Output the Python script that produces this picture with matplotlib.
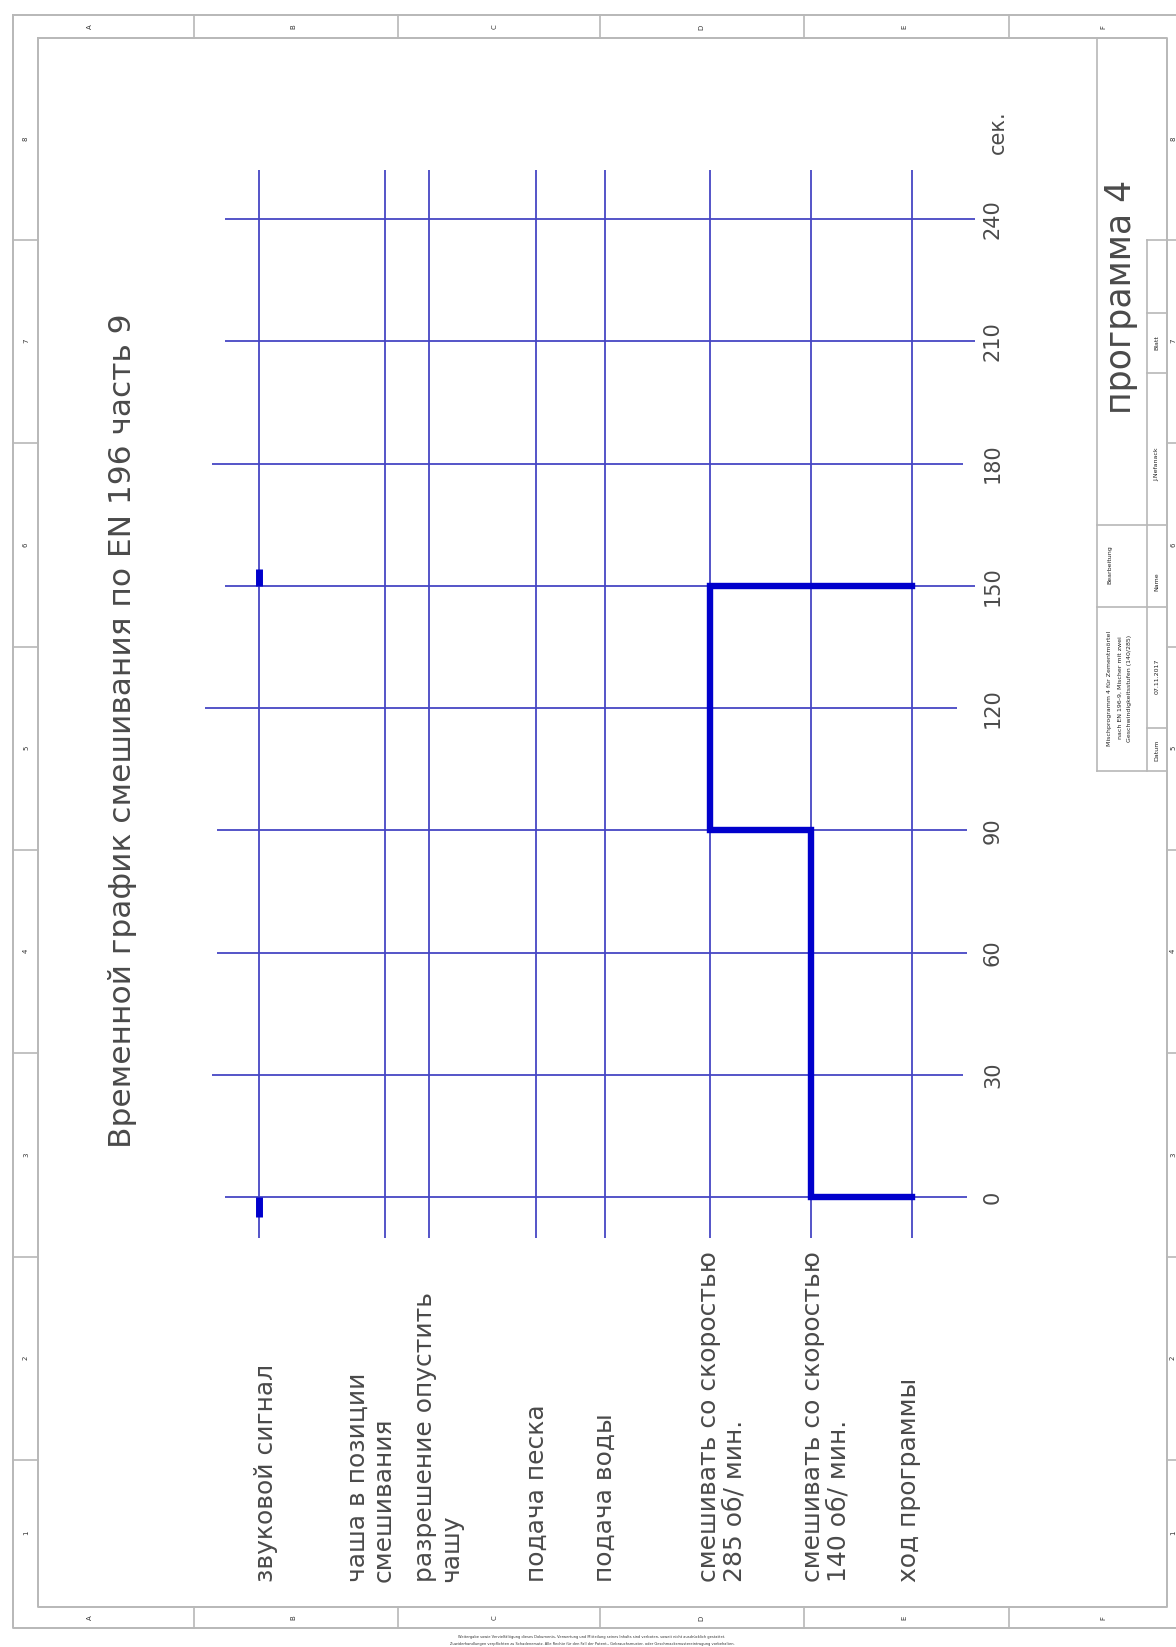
import matplotlib
matplotlib.use('Agg')
import matplotlib.pyplot as plt

plt.rcParams['font.family'] = ['DejaVu Sans']

# ---- data ----
title = 'Временной график смешивания по EN 196 часть 9'
program_name = 'программа 4'
time_unit = 'сек.'
row_labels = [
  'звуковой сигнал',
  'чаша в позиции\nсмешивания',
  'разрешение опустить\nчашу',
  'подача песка',
  'подача воды',
  'смешивать со скоростью\n285 об/ мин.',
  'смешивать со скоростью\n140 об/ мин.',
  'ход программы',
]
time_ticks = [0, 30, 60, 90, 120, 150, 180, 210, 240]
beep_start = [-5, 150]
beep_end = [0, 154]
# program flow: (row index, time) corner points
flow_rows = [7, 6, 6, 5, 5, 7]
flow_times = [0, 0, 90, 90, 150, 150]
zone_letters = ['A', 'B', 'C', 'D', 'E', 'F']
zone_numbers = ['8', '7', '6', '5', '4', '3', '2', '1']

# ---- layout (pixels) ----
W, H = 1176, 1647
row_x = [259, 385, 429, 536, 605, 710, 811, 912]
label_x = [266, 371, 438, 537, 605, 722, 826, 909]
label_bottom = 1582
line_start = [225, 212, 217, 217, 205, 225, 212, 225, 225]
line_end = [967, 963, 967, 967, 957, 975, 963, 975, 975]
y0_px, y240_px = 1197, 219
t_min, t_max = -10, 252

BLUE_THIN = '#4646c4'
BLUE_THICK = '#0000cc'
GREY = '#b8b8b8'
TEXT = '#4a4a4a'

fig = plt.figure(figsize=(W / 100, H / 100), dpi=100)

# frame axes in pixel units
fax = fig.add_axes([0, 0, 1, 1])
fax.set_xlim(0, W)
fax.set_ylim(H, 0)
fax.axis('off')

# drawing frame
fax.plot([13, 1180, 1180, 13, 13], [15, 15, 1628, 1628, 15], color=GREY, lw=1.4)
fax.plot([38, 1167, 1167, 38, 38], [38, 38, 1607, 1607, 38], color=GREY, lw=1.4)
for sx in [194, 398, 600, 804, 1009]:
  fax.plot([sx, sx], [15, 38], color=GREY, lw=1.2)
  fax.plot([sx, sx], [1607, 1628], color=GREY, lw=1.2)
for sy in [240, 443, 647, 850, 1053, 1257, 1460]:
  fax.plot([13, 38], [sy, sy], color=GREY, lw=1.2)
  fax.plot([1167, 1180], [sy, sy], color=GREY, lw=1.2)
for zx, z in zip([90, 293, 495, 701, 904, 1103], zone_letters):
  fax.text(zx, 27, z, rotation=90, ha='center', va='center', fontsize=5, color='#333333')
  fax.text(zx, 1618, z, rotation=90, ha='center', va='center', fontsize=5, color='#333333')
for zy, z in zip([139, 341, 545, 748, 951, 1155, 1358, 1533], zone_numbers):
  fax.text(26, zy, z, rotation=90, ha='center', va='center', fontsize=5, color='#333333')
  fax.text(1173, zy, z, rotation=90, ha='center', va='center', fontsize=5, color='#333333')

# title block
tb = dict(color=GREY, lw=1.2)
fax.plot([1097, 1097], [38, 771], **tb)
fax.plot([1147, 1147], [240, 771], **tb)
fax.plot([1097, 1167], [771, 771], **tb)
fax.plot([1097, 1167], [525, 525], **tb)
fax.plot([1097, 1167], [607, 607], **tb)
fax.plot([1147, 1167], [240, 240], **tb)
fax.plot([1147, 1167], [313, 313], **tb)
fax.plot([1147, 1167], [373, 373], **tb)
fax.plot([1147, 1167], [728, 728], **tb)
fax.text(1121, 297, program_name, rotation=90, ha='center', va='center', fontsize=25, color=TEXT)
small = dict(rotation=90, ha='center', va='center', fontsize=4.5, color='#222222')
fax.text(1157, 343, 'Blatt', **small)
fax.text(1157, 464, 'J.Nefanack', **small)
fax.text(1110, 565, 'Bearbeitung', **small)
fax.text(1157, 582, 'Name', **small)
fax.text(1110, 688, 'Mischprogramm 4 für Zementmörtel', **small)
fax.text(1120, 688, 'nach EN 196-9, Mischer mit zwei', **small)
fax.text(1130, 688, 'Geschwindigkeitsstufen (140/285)', **small)
fax.text(1157, 676, '07.11.2017', **small)
fax.text(1157, 750, 'Datum', **small)

# note under the frame
fax.text(592, 1637, 'Weitergabe sowie Vervielfältigung dieses Dokuments, Verwertung und Mitteilung seines Inhalts sind verboten, soweit nicht ausdrücklich gestattet.',
  ha='center', va='center', fontsize=2.6, color='#333333')
fax.text(592, 1644, 'Zuwiderhandlungen verpflichten zu Schadenersatz. Alle Rechte für den Fall der Patent-, Gebrauchsmuster- oder Geschmacksmustereintragung vorbehalten.',
  ha='center', va='center', fontsize=2.6, color='#333333')

# title
fax.text(123, 731, title, rotation=90, ha='center', va='center', fontsize=22.5, color=TEXT)

# row labels
for lx, lab in zip(label_x, row_labels):
  fax.text(lx, label_bottom, lab, rotation=90, ha='center', va='bottom',
    multialignment='left', fontsize=18, color=TEXT, linespacing=1.1)

# ---- timing chart axes: x in pixels, y in seconds ----
px_per_s = (y0_px - y240_px) / 240.0
top_px = y240_px - (t_max - 240) * px_per_s
bot_px = y0_px + (0 - t_min) * px_per_s
cax = fig.add_axes([0, 1 - bot_px / H, 1, (bot_px - top_px) / H])
cax.set_xlim(0, W)
cax.set_ylim(t_min, t_max)
cax.axis('off')

cax.vlines(row_x, t_min, t_max, color=BLUE_THIN, lw=1.3, zorder=2)
cax.hlines(time_ticks, line_start, line_end, color=BLUE_THIN, lw=1.3, zorder=2)
for t in time_ticks:
  cax.text(993, t, str(t), rotation=90, ha='center', va='center', fontsize=15, color=TEXT)
cax.text(998, 240 + (y240_px - 132) / px_per_s, time_unit, rotation=90, ha='center', va='center',
  fontsize=15, color=TEXT, clip_on=False)

# sound signal pulses
cax.vlines([row_x[0]] * len(beep_start), beep_start, beep_end, color=BLUE_THICK, lw=5, zorder=3)

# program flow
cax.plot([row_x[r] for r in flow_rows], flow_times, color=BLUE_THICK, lw=4.6,
  solid_joinstyle='miter', zorder=3)

fig.savefig('out.png', dpi=100)
